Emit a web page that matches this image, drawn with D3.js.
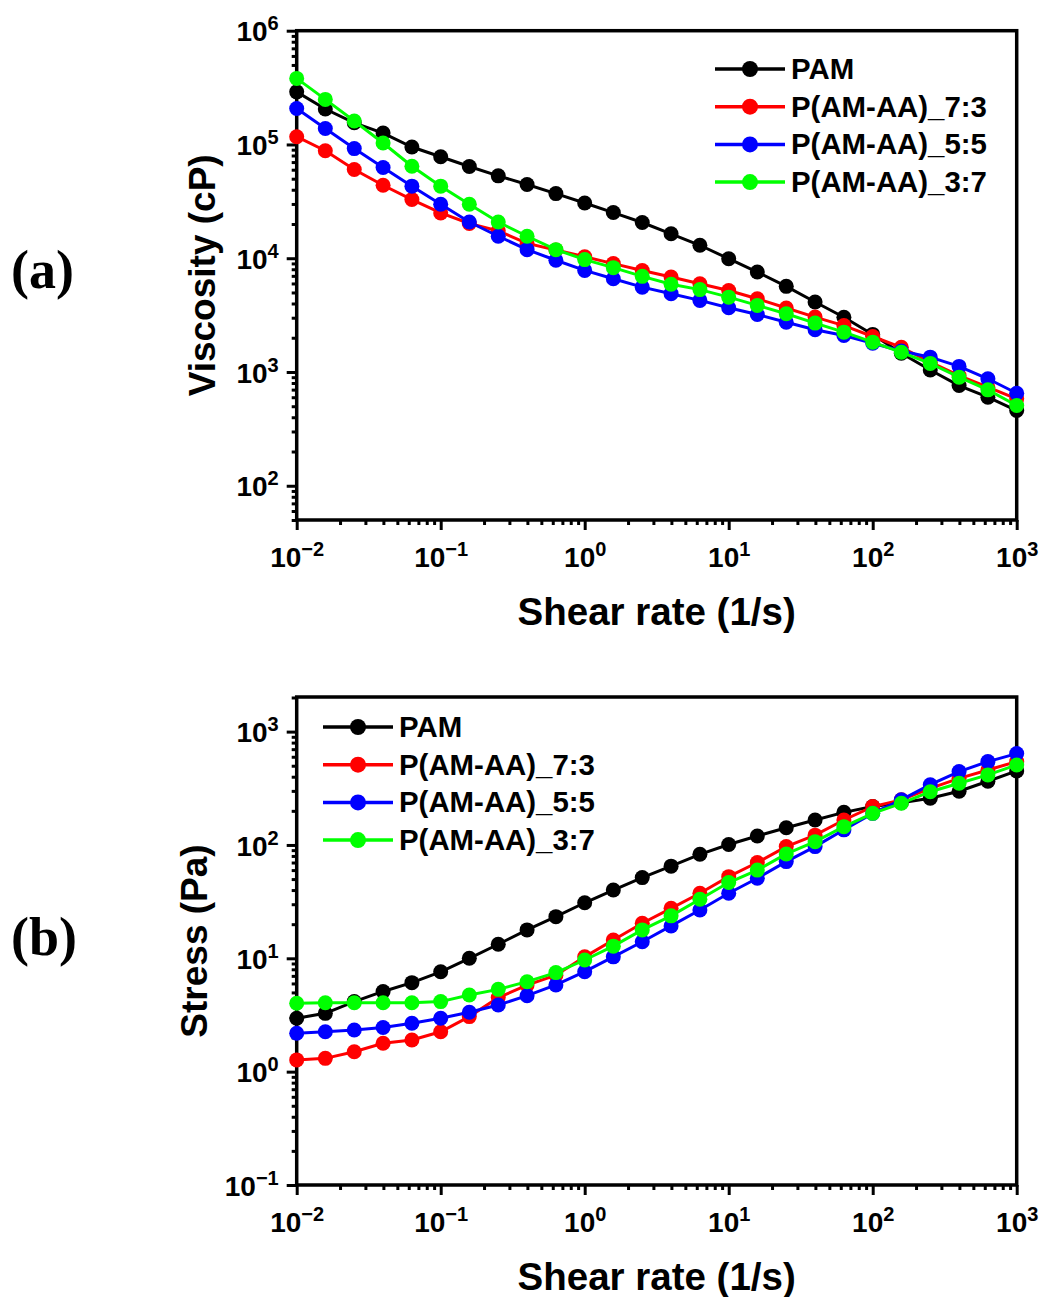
<!DOCTYPE html>
<html>
<head>
<meta charset="utf-8">
<script src="https://cdn.jsdelivr.net/npm/d3@7"></script>
<style>
  html, body { margin: 0; padding: 0; background: #fff; }
  svg { display: block; }
  text { font-family: "Liberation Sans", Arial, sans-serif; font-weight: bold; fill: #000; }
</style>
</head>
<body>
<svg id="chart" width="1045" height="1297"></svg>
<script>
// ---------------- data ----------------
const shearRate = [0.01, 0.0158, 0.0251, 0.0398, 0.0631, 0.1, 0.158, 0.251, 0.398, 0.631,
                   1, 1.58, 2.51, 3.98, 6.31, 10, 15.8, 25.1, 39.8, 63.1,
                   100, 158, 251, 398, 631, 1000];

const seriesNames = ["PAM", "P(AM-AA)_7:3", "P(AM-AA)_5:5", "P(AM-AA)_3:7"];
const seriesColors = ["#000000", "#ff0000", "#0000ff", "#00ff00"];

// Panel (a): viscosity (cP)
const viscPAM = [290000, 205000, 155000, 126000, 95000, 78000, 64000, 53000, 44500, 37000,
                 30600, 25200, 20600, 16400, 13000, 9900, 7560, 5660, 4120, 3030,
                 2140, 1460, 1040, 760, 600, 458];
const visc73  = [117000, 88000, 60300, 43800, 32800, 25000, 20200, 17400, 13500, 11800,
                 10300, 8970, 7800, 6840, 5970, 5200, 4400, 3650, 3040, 2560,
                 2050, 1650, 1220, 931, 735, 581];
const visc55  = [207000, 138000, 92000, 62800, 43000, 29800, 20800, 15600, 11900, 9600,
                 7820, 6600, 5570, 4880, 4260, 3670, 3200, 2740, 2350, 2090,
                 1790, 1530, 1350, 1120, 872, 650];
const visc37  = [381000, 249000, 161000, 103000, 64400, 43000, 29800, 20800, 15600, 11900,
                 9730, 8260, 6930, 5900, 5300, 4550, 3850, 3250, 2690, 2240,
                 1830, 1490, 1190, 900, 697, 507];

// Panel (b): stress (Pa)
const stressPAM = [2.96, 3.27, 4.15, 5.1, 6.1, 7.6, 10, 13.3, 17.8, 23.3,
                   30.9, 40, 51.5, 65, 82.7, 101, 120, 142, 166, 194,
                   218, 236, 258, 298, 365, 450];
const stress73  = [1.27, 1.31, 1.50, 1.78, 1.90, 2.25, 3.06, 4.5, 5.8, 7.1,
                   10.3, 14.5, 20.4, 27.6, 37.5, 52.5, 70, 96.7, 122, 166,
                   218, 250, 316, 387, 459, 544];
const stress55  = [2.18, 2.25, 2.33, 2.45, 2.67, 2.96, 3.34, 3.87, 4.68, 5.82,
                   7.62, 10.3, 14.0, 19.3, 26.7, 37.5, 50.8, 71.3, 96.7, 136,
                   190, 250, 340, 444, 544, 640];
const stress37  = [4.01, 4.05, 4.05, 4.05, 4.05, 4.15, 4.74, 5.32, 6.22, 7.48,
                   9.66, 12.8, 17.8, 23.7, 33.2, 46.6, 60, 83.3, 107, 145,
                   190, 233, 295, 350, 415, 508];

const xMajorExp = [-2, -1, 0, 1, 2, 3];
const yMajorExpA = [2, 3, 4, 5, 6];
const yMajorExpB = [-1, 0, 1, 2, 3];

// ---------------- drawing ----------------
const svg = d3.select("#chart");
const X0 = 296.7, X1 = 1016.7;

function minorTicks(lo, hi) {
  const out = [];
  for (let e = Math.floor(Math.log10(lo)); e <= Math.ceil(Math.log10(hi)); e++) {
    for (let m = 2; m <= 9; m++) {
      const v = m * Math.pow(10, e);
      if (v >= lo * 0.999 && v <= hi * 1.001) out.push(v);
    }
  }
  return out;
}

function supLabel(sel, exp) {
  sel.text(null);
  sel.append("tspan").text("10");
  sel.append("tspan")
    .attr("font-size", 20)
    .attr("dy", -11)
    .text(exp < 0 ? "\u2212" + Math.abs(exp) : String(exp));
}

function panel(cfg) {
  const g = svg.append("g");
  const x = d3.scaleLog().domain([0.01, 1000]).range([X0, X1]);
  const y = d3.scaleLog().domain(cfg.yDomain).range([cfg.yBottom, cfg.yTop]);

  // x axis minor
  g.append("g").attr("transform", `translate(0,${cfg.yBottom})`)
    .call(d3.axisBottom(x).tickValues(minorTicks(0.01, 1000)).tickSize(5).tickFormat(""))
    .call(a => a.select(".domain").remove())
    .call(a => a.selectAll("line").attr("stroke-width", 3));
  // x axis major
  const xa = g.append("g").attr("transform", `translate(0,${cfg.yBottom})`)
    .call(d3.axisBottom(x).tickValues(xMajorExp.map(e => Math.pow(10, e))).tickSize(10).tickSizeOuter(0))
    .call(a => a.select(".domain").remove())
    .call(a => a.selectAll("line").attr("stroke-width", 3));
  xa.selectAll(".tick text")
    .attr("y", 47).attr("dy", 0)
    .attr("font-size", 28).attr("font-family", "Liberation Sans, Arial, sans-serif")
    .attr("font-weight", "bold").attr("fill", "#000")
    .each(function(d) { supLabel(d3.select(this), Math.round(Math.log10(d))); });

  // y axis minor
  g.append("g").attr("transform", `translate(${X0},0)`)
    .call(d3.axisLeft(y).tickValues(minorTicks(cfg.yDomain[0], cfg.yDomain[1])).tickSize(5).tickFormat(""))
    .call(a => a.select(".domain").remove())
    .call(a => a.selectAll("line").attr("stroke-width", 3));
  // y axis major
  const ya = g.append("g").attr("transform", `translate(${X0},0)`)
    .call(d3.axisLeft(y).tickValues(cfg.yMajorExp.map(e => Math.pow(10, e))).tickSize(10).tickSizeOuter(0))
    .call(a => a.select(".domain").remove())
    .call(a => a.selectAll("line").attr("stroke-width", 3));
  ya.selectAll(".tick text")
    .attr("x", -18).attr("dy", "0.36em")
    .attr("font-size", 28).attr("font-family", "Liberation Sans, Arial, sans-serif")
    .attr("font-weight", "bold").attr("fill", "#000")
    .each(function(d) { supLabel(d3.select(this), Math.round(Math.log10(d))); });

  // frame
  g.append("rect")
    .attr("x", X0).attr("y", cfg.yTop)
    .attr("width", X1 - X0).attr("height", cfg.yBottom - cfg.yTop)
    .attr("fill", "none").attr("stroke", "#000").attr("stroke-width", 3.5);

  // data
  const line = d3.line().x((d, i) => x(shearRate[i])).y(d => y(d));
  const plot = g.append("g");
  cfg.series.forEach((vals, k) => {
    const sg = plot.append("g");
    sg.append("path").attr("d", line(vals))
      .attr("fill", "none").attr("stroke", seriesColors[k]).attr("stroke-width", 3);
    sg.selectAll("circle").data(vals).join("circle")
      .attr("cx", (d, i) => x(shearRate[i])).attr("cy", d => y(d))
      .attr("r", 7.5).attr("fill", seriesColors[k]);
  });

  // legend
  const lg = g.append("g");
  seriesNames.forEach((name, k) => {
    const ly = cfg.legY + k * 37.7;
    lg.append("line").attr("x1", cfg.legX).attr("x2", cfg.legX + 70)
      .attr("y1", ly).attr("y2", ly).attr("stroke", seriesColors[k]).attr("stroke-width", 3.5);
    lg.append("circle").attr("cx", cfg.legX + 35).attr("cy", ly).attr("r", 8).attr("fill", seriesColors[k]);
    lg.append("text").attr("x", cfg.legX + 76).attr("y", ly + 10)
      .attr("font-size", 29.4).text(name);
  });

  // axis titles
  g.append("text").attr("x", (X0 + X1) / 2).attr("y", cfg.yBottom + 105)
    .attr("text-anchor", "middle").attr("font-size", 38.5).text("Shear rate (1/s)");
  g.append("text")
    .attr("transform", `translate(${cfg.yTitleX},${(cfg.yTop + cfg.yBottom) / 2}) rotate(-90)`)
    .attr("text-anchor", "middle").attr("font-size", 37).text(cfg.yTitle);

  // panel label
  svg.append("text").attr("x", 11).attr("y", cfg.labelY)
    .style("font-family", "'Liberation Serif', 'Times New Roman', serif")
    .attr("font-size", 54).text(cfg.label);
}

panel({
  yDomain: [50, 1e6], yTop: 30.7, yBottom: 520, yMajorExp: yMajorExpA,
  series: [viscPAM, visc73, visc55, visc37],
  legX: 715, legY: 69,
  yTitle: "Viscosity (cP)", yTitleX: 215,
  label: "(a)", labelY: 288
});

panel({
  yDomain: [0.1, 2020], yTop: 697, yBottom: 1185, yMajorExp: yMajorExpB,
  series: [stressPAM, stress73, stress55, stress37],
  legX: 323, legY: 727,
  yTitle: "Stress (Pa)", yTitleX: 207,
  label: "(b)", labelY: 955
});
</script>
</body>
</html>
